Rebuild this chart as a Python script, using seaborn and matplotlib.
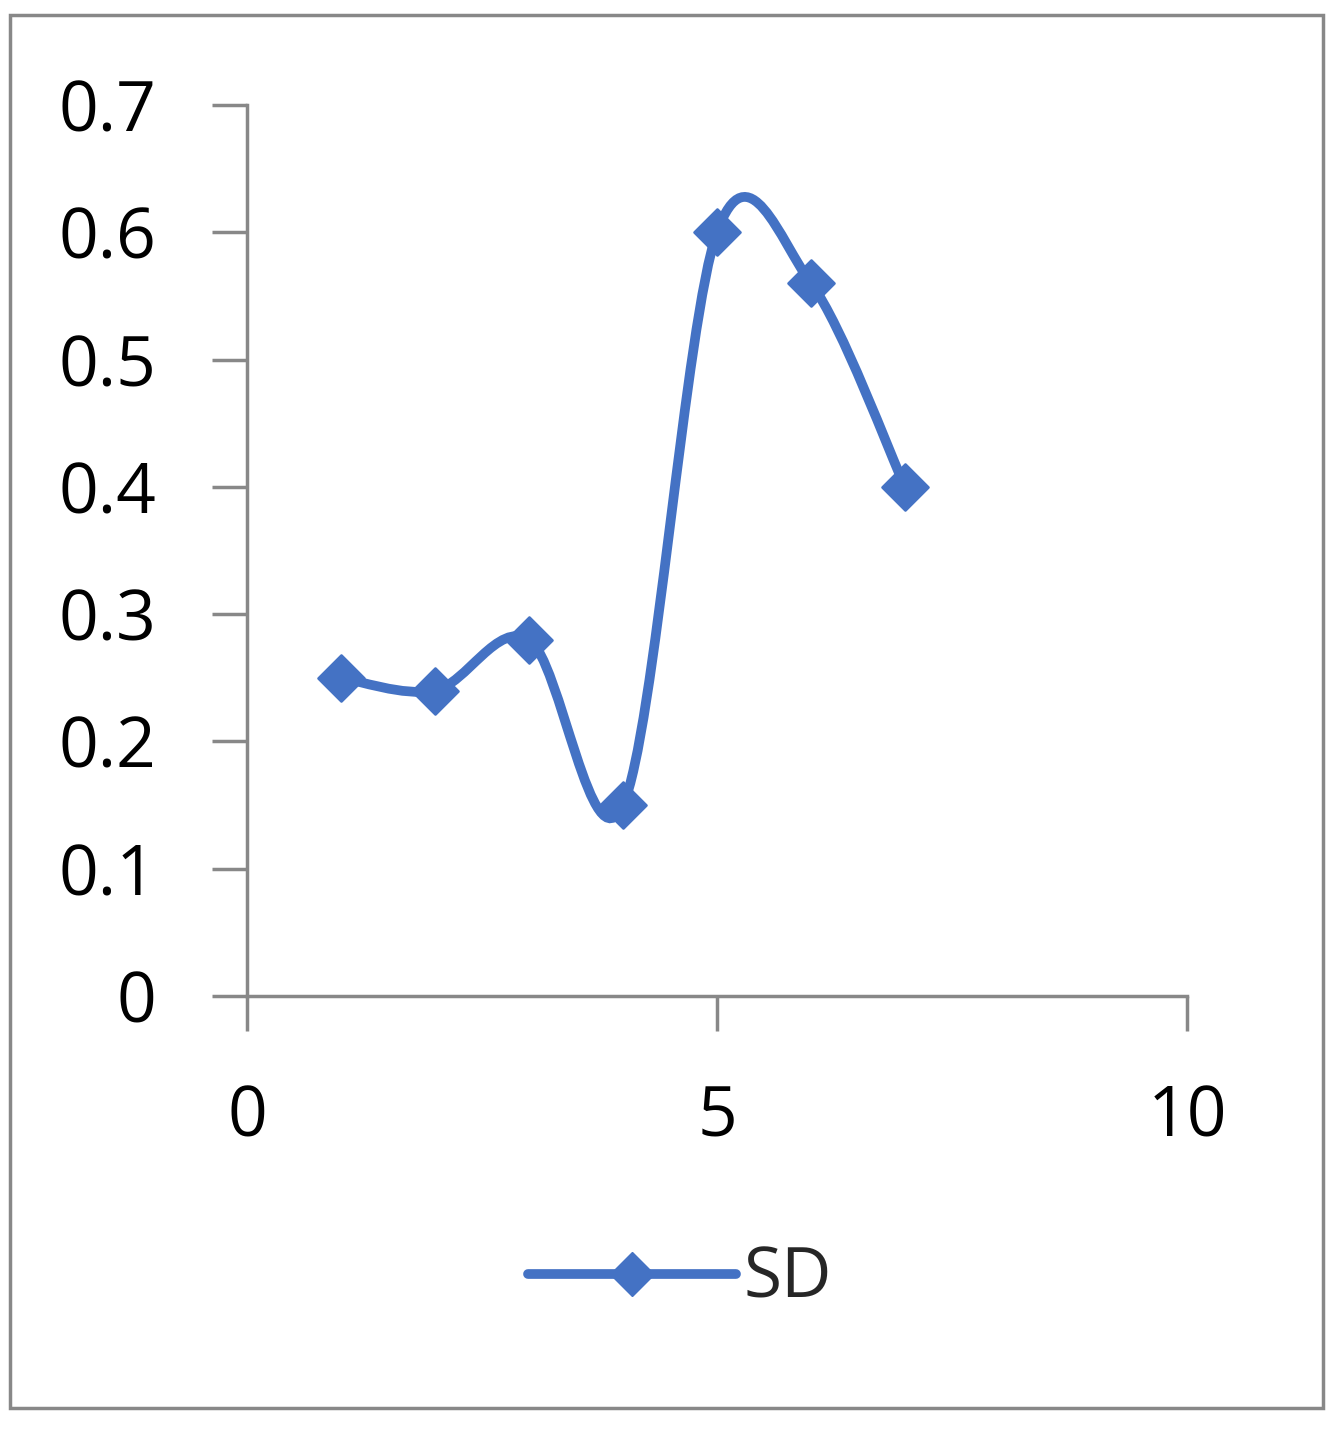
import matplotlib
matplotlib.use("Agg")
import matplotlib.pyplot as plt
import seaborn as sns
import numpy as np
from matplotlib.path import Path
from matplotlib.patches import PathPatch, Rectangle
from matplotlib.lines import Line2D

x_vals = [1, 2, 3, 4, 5, 6, 7]
sd_vals = [0.25, 0.24, 0.28, 0.15, 0.60, 0.56, 0.40]
series_name = "SD"

sns.set_style("white")
plt.rcParams['font.family'] = ['Open Sans', 'DejaVu Sans']
color = "#4472C4"
gray = "#888888"

fig = plt.figure(figsize=(13.33, 14.29), dpi=100)
ax = fig.add_axes([247/1333, 1-996/1429, (1187-247)/1333, (996-105)/1429])

pts = np.column_stack([x_vals, sd_vals]).astype(float)
verts = [tuple(pts[0])]
codes = [Path.MOVETO]
n = len(pts)
for i in range(n - 1):
    p0 = pts[max(i - 1, 0)]
    p1 = pts[i]
    p2 = pts[i + 1]
    p3 = pts[min(i + 2, n - 1)]
    c1 = p1 + (p2 - p0) / 6
    c2 = p2 - (p3 - p1) / 6
    verts += [tuple(c1), tuple(c2), tuple(p2)]
    codes += [Path.CURVE4] * 3
ax.add_patch(PathPatch(Path(verts, codes), facecolor="none", edgecolor=color, lw=7, capstyle="round", zorder=2))

sns.scatterplot(x=x_vals, y=sd_vals, ax=ax, marker="D", s=550, color=color, edgecolor=color, zorder=3, legend=False)

ax.set_xlim(0, 10)
ax.set_ylim(0, 0.7)
ax.set_xticks([0, 5, 10])
ax.set_yticks(np.arange(0, 0.71, 0.1))
ax.set_xticklabels(["0", "5", "10"])
ax.set_yticklabels(["0", "0.1", "0.2", "0.3", "0.4", "0.5", "0.6", "0.7"])
ax.tick_params(axis="both", bottom=True, left=True, direction="out", length=25, width=2.5,
               color=gray, labelsize=50, labelcolor="black")
ax.tick_params(axis="y", pad=40)
ax.tick_params(axis="x", pad=38)
for s in ["top", "right"]:
    ax.spines[s].set_visible(False)
for s in ["left", "bottom"]:
    ax.spines[s].set_color(gray)
    ax.spines[s].set_linewidth(2.5)
ax.set_xlabel("")
ax.set_ylabel("")

handle = Line2D([], [], color=color, lw=7, marker="D", markersize=22)
fig.legend([handle], [series_name], loc="center", bbox_to_anchor=(0.51, 1-1280/1429),
           frameon=False, fontsize=50, handlelength=3.0, handletextpad=0.1)

fig.patches.append(Rectangle((10/1333, 1-1408/1429), 1313/1333, 1393/1429, transform=fig.transFigure,
                             fill=False, edgecolor=gray, lw=2.5))
fig.savefig("out.png", dpi=100)
